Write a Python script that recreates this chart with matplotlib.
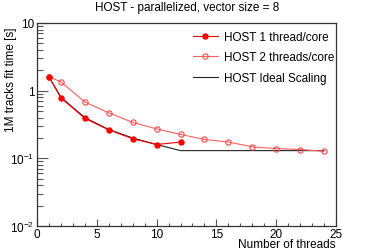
import matplotlib
matplotlib.use("Agg")
import matplotlib.pyplot as plt
from matplotlib.ticker import FixedLocator, NullFormatter, LogLocator

plt.rcParams['font.family'] = ['Liberation Sans', 'DejaVu Sans']
plt.rcParams['mathtext.fontset'] = 'custom'
plt.rcParams['mathtext.rm'] = 'Liberation Sans'
plt.rcParams['mathtext.it'] = 'Liberation Sans'

threads_1 = [1, 2, 4, 6, 8, 10, 12]
time_1 = [1.6, 0.78, 0.39, 0.263, 0.195, 0.16, 0.174]

threads_2 = [1, 2, 4, 6, 8, 10, 12, 14, 16, 18, 20, 22, 24]
time_2 = [1.6, 1.35, 0.68, 0.47, 0.34, 0.272, 0.226, 0.19, 0.174, 0.148, 0.139, 0.135, 0.127]

threads_ideal = [1, 2, 4, 6, 8, 10, 12, 14, 16, 18, 20, 22, 24]
time_ideal = [1.6, 0.8, 0.4, 0.267, 0.2, 0.16, 0.13, 0.13, 0.13, 0.13, 0.13, 0.13, 0.13]

labels = ["HOST 1 thread/core", "HOST 2 threads/core", "HOST Ideal Scaling"]
title = "HOST - parallelized, vector size = 8"

fig = plt.figure(figsize=(3.74, 2.53), dpi=100)
ax = fig.add_axes([37/374, 1 - 227/253, (336-37)/374, (227-24)/253])

ax.plot(threads_1, time_1, color='#ff0000', lw=0.8, marker='o', ms=3.6, mfc='#ff0000', mec='#ff0000', label=labels[0], zorder=4)
ax.plot(threads_2, time_2, color='#ff6060', lw=0.8, marker='o', ms=3.8, mfc='none', mec='#ff4848', mew=0.8, label=labels[1], zorder=3)
ax.plot(threads_ideal, time_ideal, color='#222222', lw=0.8, label=labels[2], zorder=2)

ax.set_yscale('log')
ax.set_xlim(0, 25)
ax.set_ylim(0.01, 10)

ax.xaxis.set_major_locator(FixedLocator([0, 5, 10, 15, 20, 25]))
ax.xaxis.set_minor_locator(FixedLocator(list(range(0, 26))))
ax.set_xticklabels(['0', '5', '10', '15', '20', '25'])
ax.yaxis.set_major_locator(FixedLocator([0.01, 0.1, 1, 10]))
ax.set_yticklabels([r'$10^{-2}$', r'$10^{-1}$', '1', '10'])
ax.yaxis.set_minor_locator(LogLocator(base=10, subs=range(2, 10)))
ax.yaxis.set_minor_formatter(NullFormatter())

ax.tick_params(axis='both', which='major', direction='in', labelsize=8.5, color='#555555', width=0.8, top=False, right=False)
ax.tick_params(axis='x', which='major', length=5, pad=1.2)
ax.tick_params(axis='x', which='minor', direction='in', length=2.5, color='#555555', width=0.8, top=False)
ax.tick_params(axis='y', which='major', length=8, pad=2)
ax.tick_params(axis='y', which='minor', direction='in', length=4.5, color='#555555', width=0.8, right=False)

for s in ax.spines.values():
    s.set_color('#333333')
    s.set_linewidth(0.9)

ax.set_xlabel("Number of threads", fontsize=8.5, loc='right', va='center')
ax.xaxis.set_label_coords(1.0, (227 - 245.5) / 203)
ax.set_ylabel("1M tracks fit time [s]", fontsize=8.5, loc='top', va='center')
ax.yaxis.set_label_coords((11 - 37) / 299, (227 - 28) / 203)
fig.text(187/374, 1 - 8/253, title, ha='center', va='center', fontsize=8.5)

leg = ax.legend(loc='upper left', bbox_to_anchor=((193 - 37) / 299, (227 - 32) / 203), frameon=False, fontsize=8.5,
                handlelength=2.1, handletextpad=0.5, labelspacing=0.72, borderaxespad=0, borderpad=0)

fig.savefig("out.png", dpi=100)
